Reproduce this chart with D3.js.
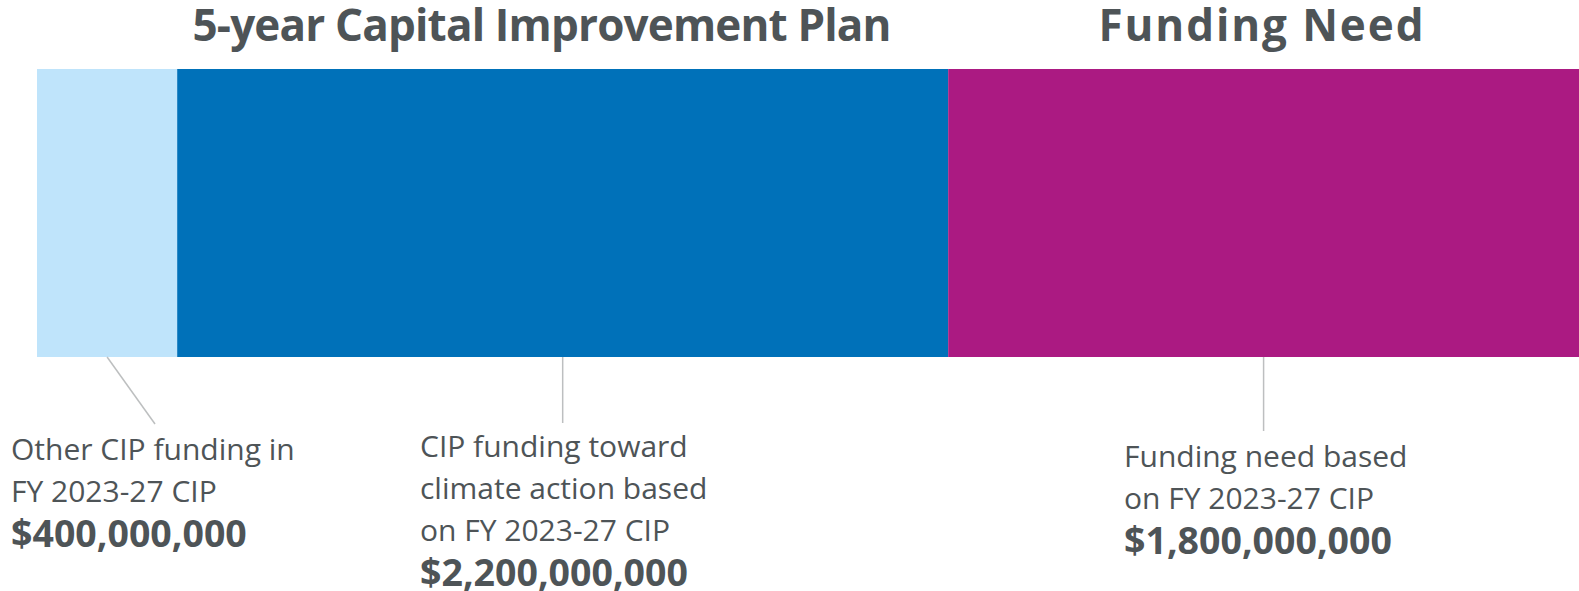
<!DOCTYPE html>
<html>
<head>
<meta charset="utf-8">
<script src="https://cdn.jsdelivr.net/npm/d3@7"></script>
<style>
  html, body { margin: 0; padding: 0; background: #ffffff; }
  svg { display: block; }
  text { font-family: "Open Sans", "Noto Sans", sans-serif; fill: #4e5457; }
</style>
</head>
<body>
<div id="chart"></div>
<script>
// Funding segments (US dollars), in stacking order
const segments = ["Other CIP funding", "CIP climate action funding", "Funding need"];
const amounts = [400000000, 2200000000, 1800000000];
const colors = ["#bfe4fb", "#0071b9", "#ab1a82"];
const labelLines = [
  ["Other CIP funding in", "FY 2023-27 CIP"],
  ["CIP funding toward", "climate action based", "on FY 2023-27 CIP"],
  ["Funding need based", "on FY 2023-27 CIP"]
];
const headings = ["5-year Capital Improvement Plan", "Funding Need"];

const W = 1579, H = 591;
const svg = d3.select("#chart").append("svg").attr("width", W).attr("height", H);

// cumulative starts for stacking
const starts = amounts.map((d, i) => d3.sum(amounts.slice(0, i)));
const total = d3.sum(amounts);

const x = d3.scaleLinear().domain([0, total]).range([37, W]);
const y = d3.scaleBand().domain(["all"]).range([69, 357]).padding(0);

// stacked bar
svg.selectAll("rect.seg")
  .data(segments)
  .join("rect")
  .attr("class", "seg")
  .attr("x", (d, i) => x(starts[i]))
  .attr("y", y("all"))
  .attr("width", (d, i) => x(starts[i] + amounts[i]) - x(starts[i]))
  .attr("height", y.bandwidth())
  .attr("fill", (d, i) => colors[i]);

// headings: one over the CIP part, one centred over the funding need
const headingX = [542, 1261];
const headingWidth = [699, 325];
svg.selectAll("text.heading")
  .data(headings)
  .join("text")
  .attr("class", "heading")
  .attr("x", (d, i) => headingX[i])
  .attr("y", 41)
  .attr("text-anchor", "middle")
  .attr("font-size", 44)
  .attr("font-weight", 700)
  .attr("textLength", (d, i) => headingWidth[i])
  .attr("lengthAdjust", "spacing")
  .text(d => d);

// leader lines from each segment centre to its label
const barBottom = y("all") + y.bandwidth();
const leaderEnd = [[155, 424], [null, 423], [null, 431]];
const fmt = d3.format("$,.0f");

const labelX = [11, 420, 1124];
const labelTop = [460, 457, 467];
const lineGap = 42;

segments.forEach((s, i) => {
  const cx = x(starts[i] + amounts[i] / 2);
  const ex = leaderEnd[i][0] == null ? cx : leaderEnd[i][0];
  svg.append("line")
    .attr("x1", cx).attr("y1", barBottom)
    .attr("x2", ex).attr("y2", leaderEnd[i][1])
    .attr("stroke", "#bdbfc0")
    .attr("stroke-width", 1.5);

  const g = svg.append("g");
  labelLines[i].forEach((t, j) => {
    g.append("text")
      .attr("x", labelX[i])
      .attr("y", labelTop[i] + j * lineGap)
      .attr("font-size", 30)
      .text(t);
  });
  g.append("text")
    .attr("x", labelX[i])
    .attr("y", labelTop[i] + labelLines[i].length * lineGap + 3)
    .attr("font-size", 37.5)
    .attr("font-weight", 700)
    .text(fmt(amounts[i]));
});
</script>
</body>
</html>
